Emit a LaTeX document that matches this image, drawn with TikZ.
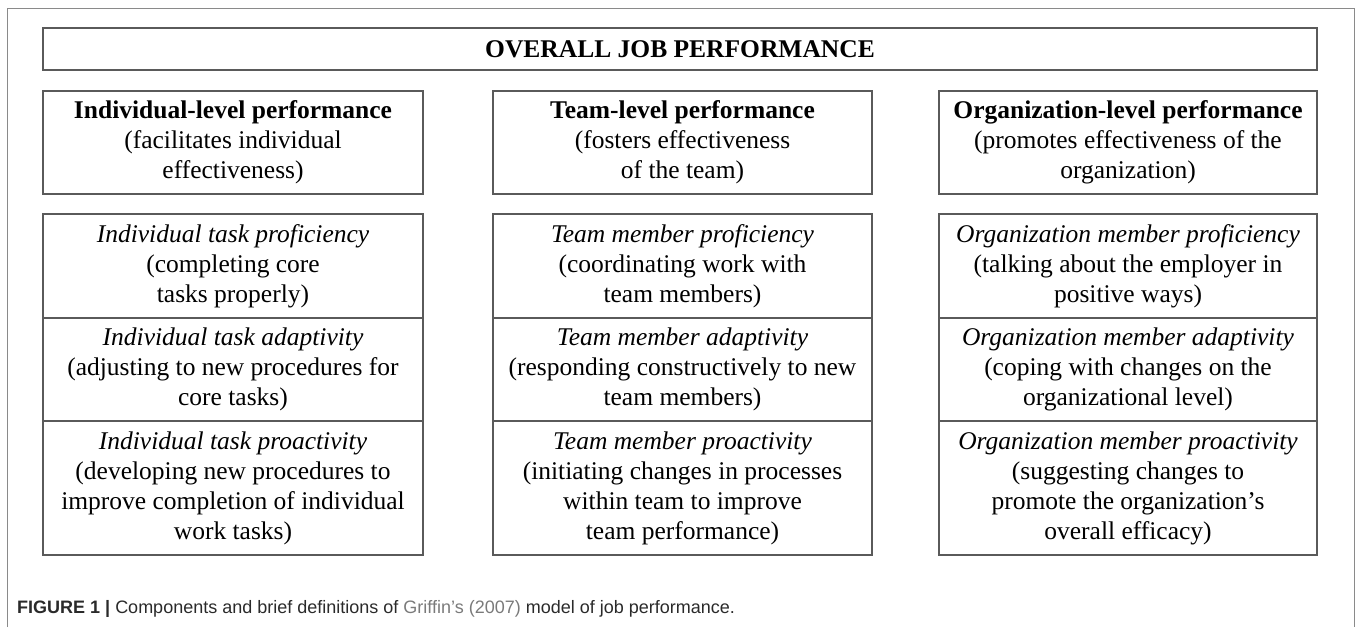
\documentclass[tikz,border=0pt]{standalone}
\usepackage{fontspec}
\setmainfont{Liberation Serif}
\newfontfamily\capfont{Liberation Sans}
\definecolor{boxgray}{HTML}{5A5A5A}
\definecolor{framegray}{HTML}{8A8A8A}
\definecolor{captxt}{HTML}{2A2A2A}
\definecolor{linkgray}{HTML}{7A7A7A}
\begin{document}
\begin{tikzpicture}[x=1pt,y=-1pt,
  cell/.style={draw=boxgray, line width=1.4pt, align=center, inner sep=0pt,
    text=black, font=\fontsize{25.5}{30}\selectfont}
]
\useasboundingbox (0,0) rectangle (1357,627);
% outer frame (open at the bottom)
\draw[framegray, line width=1pt] (7,627) -- (7,8) -- (1354,8) -- (1354,627);

% title
\node[cell, minimum width=1274pt, minimum height=42pt] (title) at (680,49)
  {\textbf{OVERALL JOB PERFORMANCE}};

% headers
\node[cell, minimum width=380pt, minimum height=103pt] (h1) at (233,142.5)
  {\textbf{Individual-level performance}\\(facilitates individual\\effectiveness)};
\node[cell, minimum width=379pt, minimum height=103pt] (h2) at (682.5,142.5)
  {\textbf{Team-level performance}\\(fosters effectiveness\\of the team)};
\node[cell, minimum width=378pt, minimum height=103pt] (h3) at (1128,142.5)
  {\textbf{Organization-level performance}\\(promotes effectiveness of the\\organization)};

% column 1
\node[cell, minimum width=380pt, minimum height=104pt] (a1) at (233,266)
  {\textit{Individual task proficiency}\\(completing core\\tasks properly)};
\node[cell, minimum width=380pt, minimum height=103pt] (a2) at (233,369.5)
  {\textit{Individual task adaptivity}\\(adjusting to new procedures for\\core tasks)};
\node[cell, minimum width=380pt, minimum height=134pt] (a3) at (233,488)
  {\textit{Individual task proactivity}\\(developing new procedures to\\improve completion of individual\\work tasks)};

% column 2
\node[cell, minimum width=379pt, minimum height=104pt] (b1) at (682.5,266)
  {\textit{Team member proficiency}\\(coordinating work with\\team members)};
\node[cell, minimum width=379pt, minimum height=103pt] (b2) at (682.5,369.5)
  {\textit{Team member adaptivity}\\(responding constructively to new\\team members)};
\node[cell, minimum width=379pt, minimum height=134pt] (b3) at (682.5,488)
  {\textit{Team member proactivity}\\(initiating changes in processes\\within team to improve\\team performance)};

% column 3
\node[cell, minimum width=378pt, minimum height=104pt] (c1) at (1128,266)
  {\textit{Organization member proficiency}\\(talking about the employer in\\positive ways)};
\node[cell, minimum width=378pt, minimum height=103pt] (c2) at (1128,369.5)
  {\textit{Organization member adaptivity}\\(coping with changes on the\\organizational level)};
\node[cell, minimum width=378pt, minimum height=134pt] (c3) at (1128,488)
  {\textit{Organization member proactivity}\\(suggesting changes to\\promote the organization’s\\overall efficacy)};

% caption
\node[anchor=base west, inner sep=0pt, text=captxt,
  font=\capfont\fontsize{18}{21}\selectfont] (cap) at (17,613)
  {\textbf{FIGURE 1 |} Components and brief definitions of \textcolor{linkgray}{Griffin’s (2007)} model of job performance.};
\end{tikzpicture}
\end{document}
